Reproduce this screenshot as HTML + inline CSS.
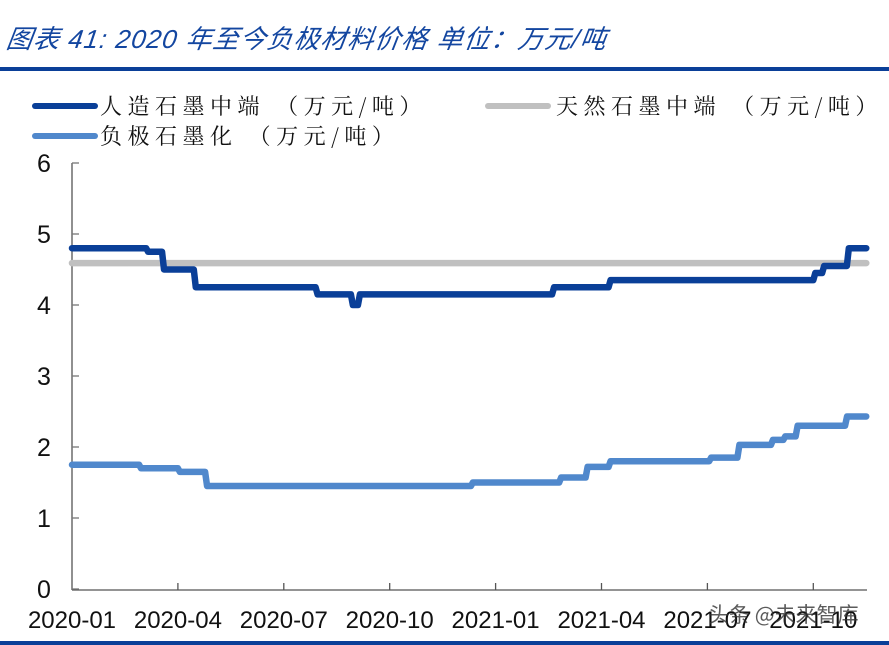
<!DOCTYPE html>
<html><head><meta charset="utf-8"><style>
body{margin:0;background:#fff;width:889px;height:645px;overflow:hidden}
svg{display:block;font-family:"Liberation Sans","Noto Sans CJK SC",sans-serif}
</style></head><body>
<svg width="889" height="645">
<text x="6" y="48" font-size="26" letter-spacing="1" font-style="italic" fill="#1346a0" transform="skewX(-8) translate(6,0)">图表 41:  2020 年至今负极材料价格 单位：万元/吨</text>
<rect x="0" y="67" width="889" height="4" fill="#0a3f98"/>
<rect x="0" y="641" width="889" height="4" fill="#0a3f98"/>
<g font-size="22" letter-spacing="5.5" fill="#111" font-family="Noto Serif CJK SC, serif">
 <g><line x1="35" y1="106" x2="95" y2="106" stroke="#0a3f98" stroke-width="6" stroke-linecap="round"/><text x="100" y="114">人造石墨中端 （万元/吨）</text></g>
 <g><line x1="488" y1="106" x2="548" y2="106" stroke="#c0c0c0" stroke-width="6" stroke-linecap="round"/><text x="556" y="114">天然石墨中端 （万元/吨）</text></g>
 <g><line x1="35" y1="136" x2="95" y2="136" stroke="#5088cc" stroke-width="6" stroke-linecap="round"/><text x="100" y="144">负极石墨化 （万元/吨）</text></g>
</g>
<g id="axes"></g>
<g id="series"></g>
<text x="708" y="622" font-size="21" fill="#333" opacity="0.8" font-family="Noto Sans CJK SC, sans-serif">头条 @未来智库</text>
</svg>
<script>
const yTicks=[0,1,2,3,4,5,6];
const xTickLabels=["2020-01","2020-04","2020-07","2020-10","2021-01","2021-04","2021-07","2021-10"];
const xTickMonths=[0,3,6,9,12,15,18,21];
const endMonth=22.5;
// step series: start month of each level and its value
const artificialMonths=[0,2.1,2.55,3.45,6.9,7.9,8.1,13.6,15.2,21.0,21.25,21.95];
const artificialValues=[4.8,4.75,4.5,4.25,4.15,4.0,4.15,4.25,4.35,4.45,4.55,4.8];
const naturalMonths=[0];
const naturalValues=[4.59];
const anodeMonths=[0,1.9,3.0,3.77,11.3,13.8,14.55,15.2,18.05,18.85,19.8,20.15,20.5,21.9];
const anodeValues=[1.75,1.7,1.65,1.45,1.5,1.57,1.72,1.8,1.85,2.03,2.1,2.15,2.3,2.43];
const NS="http://www.w3.org/2000/svg";
const x=m=>72+m*35.3;
const y=v=>589-v*71;
const axes=document.getElementById('axes');
function mk(tag,attrs,parent){const e=document.createElementNS(NS,tag);for(const k in attrs)e.setAttribute(k,attrs[k]);parent.appendChild(e);return e;}
const ya=mk('line',{x1:72,y1:y(6),x2:72,y2:590,stroke:'#555','stroke-width':1.3},axes);


const xa=mk('line',{x1:72,y1:590,x2:867,y2:590,stroke:'#555','stroke-width':1.3},axes);


yTicks.forEach(v=>{
 mk('line',{x1:72,y1:y(v),x2:79,y2:y(v),stroke:'#777','stroke-width':1.3},axes);
 const t=mk('text',{x:44,y:y(v)+9,'font-size':25,'text-anchor':'middle',fill:'#111'},axes);
 t.textContent=v;
 
 
});
xTickMonths.forEach((m,i)=>{
 if(i>0)mk('line',{x1:x(m),y1:590,x2:x(m),y2:583,stroke:'#555','stroke-width':1.3},axes);
 const t=mk('text',{x:x(m),y:628,'font-size':24,'text-anchor':'middle',fill:'#111'},axes);
 t.textContent=xTickLabels[i];
 
 
});
const ser=document.getElementById('series');
function step(ms,vs,color,name){
 let d='M'+x(ms[0])+','+y(vs[0]);
 for(let i=1;i<ms.length;i++){d+=' L'+x(ms[i])+','+y(vs[i-1])+' L'+(x(ms[i])+2)+','+y(vs[i]);}
 d+=' L'+x(endMonth)+','+y(vs[vs.length-1]);
 const p=mk('path',{d:d,fill:'none',stroke:color,'stroke-width':6.5,'stroke-linejoin':'round','stroke-linecap':'round'},ser);
 
 
}
step(naturalMonths,naturalValues,'#c0c0c0','natural-graphite-line');
step(anodeMonths,anodeValues,'#5088cc','anode-graphitization-line');
step(artificialMonths,artificialValues,'#0a3f98','artificial-graphite-line');
</script>
</body></html>
